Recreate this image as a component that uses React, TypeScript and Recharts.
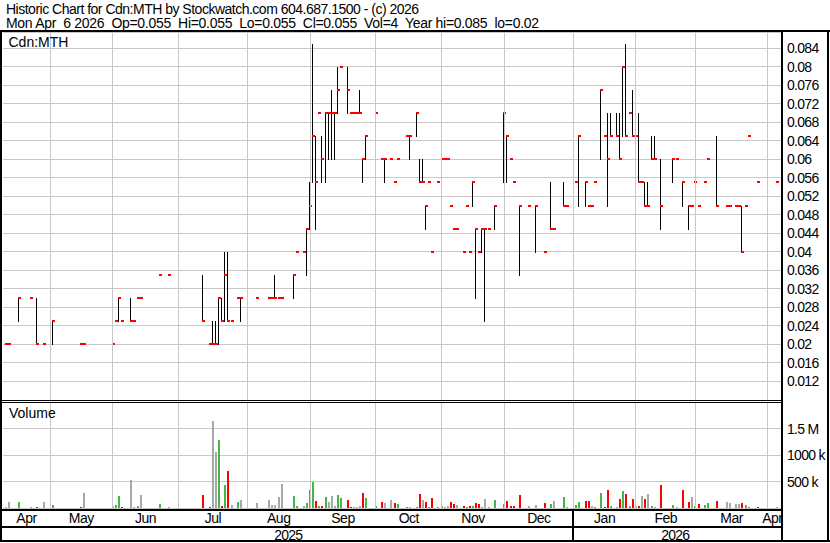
import React from 'react';
import { ComposedChart, Bar, XAxis, YAxis, CartesianGrid, ReferenceLine } from 'recharts';

const FONT = '"Liberation Sans", Arial, Helvetica, sans-serif';

// calendar structure (trading-day slots per month)
const monthNames = ['Apr', 'May', 'Jun', 'Jul', 'Aug', 'Sep', 'Oct', 'Nov', 'Dec', 'Jan', 'Feb', 'Mar', 'Apr'];
const monthDays = [15, 20, 21, 22, 20, 21, 21, 20, 22, 20, 19, 23, 3];
const yearNames = ['2025', '2026'];
const yearMonthCounts = [9, 4];

// traded days (slot index), high, low, close, volume
const tradeSlots = [
  0, 1, 4, 8, 10, 12, 15, 24, 25, 34,
  35, 36, 37, 40, 41, 42, 43, 49, 52, 63,
  65, 66, 67, 68, 69, 70, 71, 72, 74, 75,
  80, 84, 85, 86, 87, 88, 92, 93, 95, 96,
  97, 98, 99, 100, 101, 102, 103, 104, 105, 106,
  107, 109, 110, 111, 112, 113, 114, 115, 118, 120,
  121, 123, 124, 125, 128, 129, 131, 132, 133, 134,
  135, 136, 138, 139, 140, 141, 142, 143, 144, 146,
  147, 148, 149, 150, 151, 152, 153, 154, 156, 159,
  160, 161, 162, 164, 167, 169, 172, 174, 175, 178,
  179, 182, 183, 185, 186, 187, 188, 190, 191, 192,
  193, 195, 196, 197, 198, 199, 200, 201, 202, 203,
  204, 205, 206, 207, 209, 213, 214, 216, 218, 219,
  220, 221, 223, 224, 227, 230, 231, 233, 234, 235,
  236, 237, 240, 246,
];
const highs = [
  0.02, 0.02, 0.03, 0.03, 0.03, 0.02, 0.025, 0.02, 0.02, 0.02,
  0.025, 0.03, 0.025, 0.03, 0.025, 0.03, 0.03, 0.035, 0.035, 0.035,
  0.02, 0.025, 0.025, 0.03, 0.03, 0.04, 0.04, 0.025, 0.03, 0.03,
  0.03, 0.03, 0.03, 0.035, 0.03, 0.03, 0.035, 0.04, 0.04, 0.045,
  0.055, 0.085, 0.065, 0.07, 0.065, 0.07, 0.07, 0.075, 0.07, 0.08,
  0.08, 0.08, 0.07, 0.07, 0.07, 0.075, 0.06, 0.065, 0.07, 0.06,
  0.06, 0.06, 0.055, 0.06, 0.065, 0.065, 0.07, 0.06, 0.06, 0.05,
  0.055, 0.04, 0.055, 0.06, 0.06, 0.06, 0.05, 0.045, 0.045, 0.04,
  0.05, 0.04, 0.055, 0.045, 0.04, 0.045, 0.045, 0.045, 0.05, 0.07,
  0.065, 0.06, 0.055, 0.05, 0.05, 0.05, 0.04, 0.055, 0.045, 0.055,
  0.05, 0.055, 0.065, 0.055, 0.05, 0.05, 0.055, 0.075, 0.065, 0.07,
  0.07, 0.07, 0.07, 0.08, 0.085, 0.07, 0.075, 0.065, 0.07, 0.055,
  0.055, 0.055, 0.065, 0.065, 0.06, 0.06, 0.06, 0.055, 0.05, 0.05,
  0.055, 0.05, 0.055, 0.06, 0.065, 0.05, 0.05, 0.05, 0.05, 0.05,
  0.05, 0.065, 0.055, 0.055,
];
const lows = [
  0.02, 0.02, 0.025, 0.03, 0.02, 0.02, 0.02, 0.02, 0.02, 0.02,
  0.025, 0.025, 0.025, 0.025, 0.025, 0.03, 0.03, 0.035, 0.035, 0.025,
  0.02, 0.02, 0.02, 0.02, 0.025, 0.025, 0.025, 0.025, 0.03, 0.025,
  0.03, 0.03, 0.03, 0.03, 0.03, 0.03, 0.03, 0.04, 0.04, 0.035,
  0.045, 0.055, 0.045, 0.07, 0.055, 0.055, 0.06, 0.06, 0.06, 0.07,
  0.08, 0.07, 0.07, 0.07, 0.07, 0.07, 0.055, 0.06, 0.06, 0.06,
  0.055, 0.06, 0.055, 0.06, 0.065, 0.06, 0.065, 0.055, 0.055, 0.045,
  0.055, 0.04, 0.055, 0.05, 0.06, 0.06, 0.05, 0.045, 0.045, 0.04,
  0.05, 0.04, 0.05, 0.03, 0.04, 0.04, 0.025, 0.045, 0.045, 0.055,
  0.055, 0.06, 0.055, 0.035, 0.05, 0.04, 0.04, 0.045, 0.045, 0.05,
  0.05, 0.055, 0.05, 0.05, 0.05, 0.05, 0.055, 0.06, 0.065, 0.05,
  0.065, 0.065, 0.06, 0.065, 0.065, 0.07, 0.065, 0.06, 0.055, 0.055,
  0.05, 0.05, 0.06, 0.06, 0.045, 0.055, 0.06, 0.05, 0.045, 0.05,
  0.055, 0.05, 0.055, 0.06, 0.05, 0.05, 0.05, 0.05, 0.05, 0.04,
  0.05, 0.065, 0.055, 0.055,
];
const closes = [
  0.02, 0.02, 0.03, 0.03, 0.02, 0.02, 0.025, 0.02, 0.02, 0.02,
  0.025, 0.03, 0.025, 0.025, 0.025, 0.03, 0.03, 0.035, 0.035, 0.025,
  0.02, 0.02, 0.02, 0.03, 0.025, 0.035, 0.025, 0.025, 0.03, 0.03,
  0.03, 0.03, 0.03, 0.03, 0.03, 0.03, 0.035, 0.04, 0.04, 0.045,
  0.05, 0.065, 0.055, 0.07, 0.06, 0.07, 0.07, 0.07, 0.07, 0.075,
  0.08, 0.075, 0.07, 0.07, 0.07, 0.07, 0.06, 0.065, 0.07, 0.06,
  0.06, 0.06, 0.055, 0.06, 0.065, 0.065, 0.07, 0.055, 0.055, 0.05,
  0.055, 0.04, 0.055, 0.06, 0.06, 0.06, 0.05, 0.045, 0.045, 0.04,
  0.05, 0.04, 0.055, 0.045, 0.04, 0.045, 0.045, 0.045, 0.05, 0.07,
  0.065, 0.06, 0.055, 0.05, 0.05, 0.05, 0.04, 0.045, 0.045, 0.05,
  0.05, 0.055, 0.065, 0.055, 0.05, 0.05, 0.055, 0.075, 0.065, 0.06,
  0.065, 0.065, 0.06, 0.08, 0.065, 0.07, 0.065, 0.065, 0.055, 0.055,
  0.05, 0.05, 0.06, 0.06, 0.05, 0.06, 0.06, 0.055, 0.05, 0.05,
  0.055, 0.05, 0.055, 0.06, 0.05, 0.05, 0.05, 0.05, 0.05, 0.04,
  0.05, 0.065, 0.055, 0.055,
];
const volumes = [
  25000, 112000, 112000, 20000, 20000, 112000, 55000, 20000, 280000, 35000,
  60000, 225000, 20000, 523000, 20000, 35000, 243000, 75000, 20000, 243000,
  20000, 1645000, 1065000, 1290000, 35000, 436000, 690000, 60000, 112000, 150000,
  93000, 150000, 60000, 60000, 206000, 450000, 225000, 35000, 35000, 93000,
  336000, 486000, 131000, 35000, 35000, 206000, 112000, 225000, 35000, 243000,
  187000, 150000, 20000, 20000, 20000, 30000, 280000, 187000, 35000, 112000,
  93000, 150000, 93000, 75000, 20000, 25000, 20000, 262000, 150000, 112000,
  20000, 187000, 20000, 35000, 20000, 35000, 112000, 75000, 55000, 35000,
  20000, 35000, 35000, 93000, 75000, 20000, 168000, 20000, 150000, 75000,
  131000, 35000, 35000, 243000, 35000, 55000, 93000, 75000, 131000, 206000,
  20000, 55000, 112000, 131000, 131000, 35000, 20000, 280000, 20000, 336000,
  35000, 20000, 168000, 318000, 262000, 35000, 168000, 35000, 35000, 225000,
  168000, 262000, 35000, 20000, 440000, 55000, 20000, 336000, 112000, 206000,
  35000, 75000, 55000, 93000, 131000, 112000, 93000, 75000, 75000, 93000,
  55000, 20000, 15000, 4,
];

const priceTicks = [0.012, 0.016, 0.02, 0.024, 0.028, 0.032, 0.036, 0.04, 0.044, 0.048, 0.052, 0.056, 0.06, 0.064, 0.068, 0.072, 0.076, 0.08, 0.084];
const volumeTicks = [500000, 1000000, 1500000];
const volumeTickLabels = ['500 k', '1000 k', '1.5 M'];

const headerLine1 = 'Historic Chart for Cdn:MTH by Stockwatch.com 604.687.1500 - (c) 2026';
const headerLine2 = 'Mon Apr  6 2026  Op=0.055  Hi=0.055  Lo=0.055  Cl=0.055  Vol=4  Year hi=0.085  lo=0.02';

// ---- derived tables ----
const totalSlots = monthDays.reduce((a, b) => a + b, 0);
const monthStarts: number[] = [];
{
  let acc = 0;
  monthDays.forEach((d) => { monthStarts.push(acc); acc += d; });
}
const monthCenters = monthStarts.map((s, k) => s + (monthDays[k] - 1) / 2);
const yearCenters: number[] = [];
{
  let m = 0;
  yearMonthCounts.forEach((cnt) => {
    const start = monthStarts[m];
    const end = m + cnt < monthStarts.length ? monthStarts[m + cnt] : totalSlots;
    yearCenters.push((start + end) / 2 - 0.5);
    m += cnt;
  });
}

type Row = { slot: number; hl: number[] | null; h: number | null; l: number | null; c: number | null; vol: number | null; dir: number };
const rows: Row[] = [];
for (let i = 0; i < totalSlots; i++) rows.push({ slot: i, hl: null, h: null, l: null, c: null, vol: null, dir: 0 });
{
  let prev: number | null = null;
  tradeSlots.forEach((s, k) => {
    const r = rows[s];
    r.hl = [lows[k], highs[k]];
    r.h = highs[k];
    r.l = lows[k];
    r.c = closes[k];
    r.vol = volumes[k];
    r.dir = prev === null ? 0 : closes[k] > prev ? 1 : closes[k] < prev ? -1 : 0;
    prev = closes[k];
  });
}

const GRID = '#c8c8c8';
const UP = '#44b844';
const DOWN = '#ff0000';
const FLAT = '#a8a8a8';

const PriceShape = (props: any) => {
  const { x, y, height, payload } = props;
  if (!payload || payload.h == null || !isFinite(y)) return <g />;
  const hgt = Math.abs(height || 0);
  const top = (height || 0) >= 0 ? y : y + height;
  const cy = payload.h === payload.l ? top : top + (hgt * (payload.h - payload.c)) / (payload.h - payload.l);
  const lx = x + 2;
  return (
    <g>
      {hgt > 0 && <rect x={lx} y={top} width={1} height={hgt + 1} fill="#000" />}
      <rect x={lx} y={cy - 1} width={3} height={2} fill={DOWN} />
    </g>
  );
};

const VolShape = (props: any) => {
  const { x, y, height, payload } = props;
  if (!payload || payload.vol == null || !isFinite(y)) return <g />;
  const bottom = y + (height || 0);
  const h = Math.max(height || 0, 1);
  const fill = payload.dir > 0 ? UP : payload.dir < 0 ? DOWN : FLAT;
  return <rect x={x + 1} y={bottom - h} width={2} height={h} fill={fill} />;
};

const PriceTick = (p: any) => (
  <text x={p.x} y={p.y} dy={5} fill="#000" fontSize={14} fontFamily={FONT} letterSpacing={-0.7} textAnchor="start">
    {String(p.payload.value)}
  </text>
);

const VolTick = (p: any) => {
  const idx = volumeTicks.indexOf(p.payload.value);
  return (
    <text x={p.x} y={p.y} dy={5} fill="#000" fontSize={14} fontFamily={FONT} letterSpacing={-0.7} textAnchor="start">
      {idx >= 0 ? volumeTickLabels[idx] : ''}
    </text>
  );
};

const MonthTick = (p: any) => {
  const idx = monthCenters.findIndex((c) => Math.abs(c - p.payload.value) < 0.01);
  return (
    <text x={p.x} y={p.y + 15} fill="#000" fontSize={14} fontFamily={FONT} letterSpacing={-0.5} textAnchor="middle">
      {idx >= 0 ? monthNames[idx] : ''}
    </text>
  );
};

const YearTick = (p: any) => {
  const idx = yearCenters.findIndex((c) => Math.abs(c - p.payload.value) < 0.01);
  return (
    <text x={p.x} y={p.y + 13.5} fill="#000" fontSize={14} fontFamily={FONT} letterSpacing={-0.8} textAnchor="middle">
      {idx >= 0 ? yearNames[idx] : ''}
    </text>
  );
};

const PAD = { left: 0, right: 4 };
const NUM_DOMAIN: [number, number] = [-0.5, totalSlots - 0.5];

export default function App() {
  const gridLines = monthStarts.slice(1).map((s) => s - 0.5);
  return (
    <div className="swc" style={{ position: 'absolute', left: 0, top: 0, width: 830, height: 543, background: '#fff', overflow: 'hidden', fontFamily: FONT }}>
      <style>{`.swc svg rect, .swc svg line { shape-rendering: crispEdges; }`}</style>

      {/* price panel */}
      <div style={{ position: 'absolute', left: 0, top: 0 }}>
        <ComposedChart width={830} height={543} data={rows} margin={{ top: 32, right: 2, bottom: 143, left: 3 }}>
          <XAxis xAxisId="cat" dataKey="slot" type="category" hide height={0} padding={PAD} />
          <XAxis xAxisId="num" dataKey="slot" type="number" hide height={0} domain={NUM_DOMAIN} padding={PAD} allowDataOverflow />
          <YAxis
            orientation="right"
            width={47}
            domain={[0.008, 0.0875]}
            ticks={priceTicks}
            allowDataOverflow
            axisLine={false}
            tickLine={false}
            tickSize={0}
            tickMargin={6}
            interval={0}
            tick={<PriceTick />}
          />
          <CartesianGrid xAxisId="num" vertical={false} stroke={GRID} strokeWidth={1} />
          {gridLines.map((g) => (
            <ReferenceLine key={'pg' + g} xAxisId="num" x={g} stroke={GRID} strokeWidth={1} />
          ))}
          <Bar xAxisId="cat" dataKey="hl" barSize={3} shape={<PriceShape />} isAnimationActive={false} />
        </ComposedChart>
      </div>

      {/* volume panel + time axes */}
      <div style={{ position: 'absolute', left: 0, top: 0 }}>
        <ComposedChart width={830} height={543} data={rows} margin={{ top: 402, right: 2, bottom: 2, left: 3 }}>
          <XAxis
            xAxisId="num"
            dataKey="slot"
            type="number"
            domain={NUM_DOMAIN}
            padding={PAD}
            allowDataOverflow
            ticks={monthCenters}
            interval={0}
            height={18}
            axisLine={false}
            tickLine={false}
            tickSize={0}
            tickMargin={0}
            tick={<MonthTick />}
          />
          <XAxis
            xAxisId="year"
            dataKey="slot"
            type="number"
            domain={NUM_DOMAIN}
            padding={PAD}
            allowDataOverflow
            ticks={yearCenters}
            interval={0}
            height={15}
            axisLine={false}
            tickLine={false}
            tickSize={0}
            tickMargin={0}
            tick={<YearTick />}
          />
          <XAxis xAxisId="cat" dataKey="slot" type="category" hide height={0} padding={PAD} />
          <YAxis
            orientation="right"
            width={47}
            domain={[0, 2000000]}
            ticks={volumeTicks}
            allowDataOverflow
            axisLine={false}
            tickLine={false}
            tickSize={0}
            tickMargin={6}
            interval={0}
            tick={<VolTick />}
          />
          <CartesianGrid xAxisId="num" vertical={false} stroke={GRID} strokeWidth={1} />
          {gridLines.map((g) => (
            <ReferenceLine key={'vg' + g} xAxisId="num" x={g} stroke={GRID} strokeWidth={1} />
          ))}
          <Bar xAxisId="cat" dataKey="vol" barSize={2} shape={<VolShape />} isAnimationActive={false} />
        </ComposedChart>
      </div>

      {/* frame, header and panel captions */}
      <svg width={830} height={543} style={{ position: 'absolute', left: 0, top: 0 }}>
        <text x={6} y={14} fontSize={14} fontFamily={FONT} letterSpacing={-0.5} fill="#000" style={{ whiteSpace: 'pre' }}>{headerLine1}</text>
        <text x={6} y={28} fontSize={14} fontFamily={FONT} letterSpacing={-0.3} fill="#000" style={{ whiteSpace: 'pre' }}>{headerLine2}</text>
        <text x={8.5} y={47} fontSize={14} fontFamily={FONT} fill="#000">Cdn:MTH</text>
        <text x={9} y={418} fontSize={14} fontFamily={FONT} fill="#000">Volume</text>
        <rect x={783} y={509} width={44} height={31} fill="#fff" />
        <rect x={0} y={30} width={830} height={2} fill="#000" />
        <rect x={0} y={30} width={2} height={512} fill="#000" />
        <rect x={827} y={30} width={2} height={512} fill="#000" />
        <rect x={781} y={30} width={2} height={512} fill="#000" />
        <rect x={0} y={540} width={830} height={2} fill="#000" />
        <rect x={2} y={400} width={779} height={1} fill="#000" />
        <rect x={2} y={402} width={779} height={1} fill="#000" />
        <rect x={2} y={509} width={779} height={2} fill="#000" />
        <rect x={2} y={526} width={779} height={2} fill="#000" />
        <rect x={572} y={509} width={2} height={32} fill="#000" />
      </svg>
    </div>
  );
}
